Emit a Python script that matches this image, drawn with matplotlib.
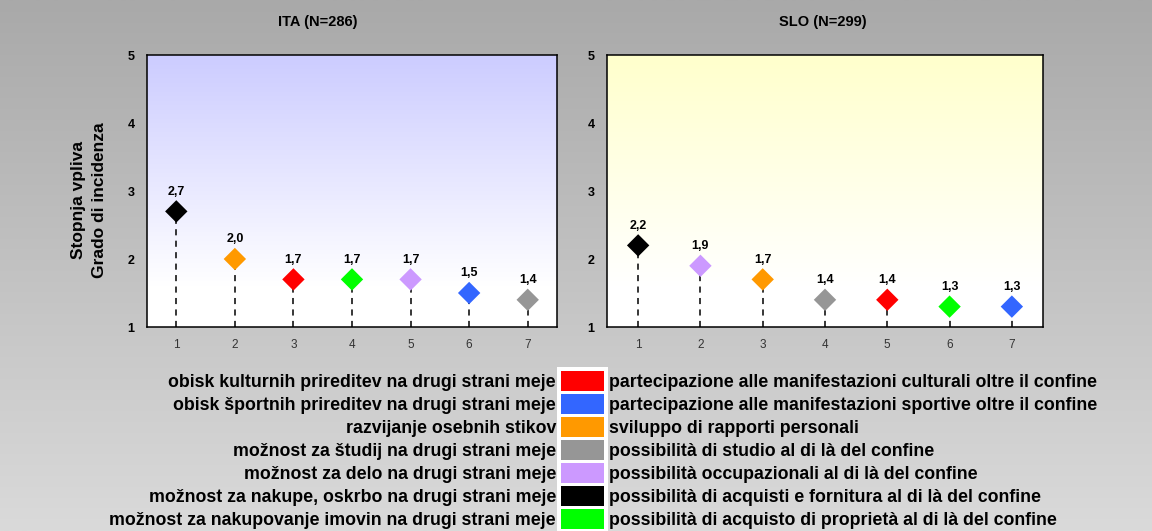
import numpy as np
import matplotlib
matplotlib.use("Agg")
import matplotlib.pyplot as plt
from matplotlib.colors import LinearSegmentedColormap
from matplotlib.patches import Rectangle

plt.rcParams['font.family'] = ['Liberation Sans', 'DejaVu Sans']

# activities, in legend order
items_sl = ["obisk kulturnih prireditev na drugi strani meje",
            "obisk športnih prireditev na drugi strani meje",
            "razvijanje osebnih stikov",
            "možnost za študij na drugi strani meje",
            "možnost za delo na drugi strani meje",
            "možnost za nakupe, oskrbo na drugi strani meje",
            "možnost za nakupovanje imovin na drugi strani meje"]
items_it = ["partecipazione alle manifestazioni culturali oltre il confine",
            "partecipazione alle manifestazioni sportive oltre il confine",
            "sviluppo di rapporti personali",
            "possibilità di studio al di là del confine",
            "possibilità occupazionali al di là del confine",
            "possibilità di acquisti e fornitura al di là del confine",
            "possibilità di acquisto di proprietà al di là del confine"]
item_colors = ['#ff0000', '#3366ff', '#ff9900', '#969696', '#cc99ff', '#000000', '#00ff00']

ranks = [1, 2, 3, 4, 5, 6, 7]
ita_items = [5, 2, 0, 6, 4, 1, 3]
ita_values = [2.7, 2.0, 1.7, 1.7, 1.7, 1.5, 1.4]
slo_items = [5, 4, 2, 3, 0, 6, 1]
slo_values = [2.2, 1.9, 1.7, 1.4, 1.4, 1.3, 1.3]

W, H = 1152, 531
fig = plt.figure(figsize=(W / 100, H / 100), dpi=100)

# grey backdrop, darker at the top
bg = fig.add_axes([0, 0, 1, 1], zorder=-10)
grad = np.linspace(0, 1, 256).reshape(-1, 1)
bg.imshow(grad, aspect='auto', extent=[0, 1, 0, 1], origin='upper',
          cmap=LinearSegmentedColormap.from_list('bg', ['#a9a9a9', '#dadada']))
bg.set_axis_off()


def panel(rect, title, title_x, items, values, top_color):
    ax = fig.add_axes(rect)
    ax.set_xlim(0.5, 7.5)
    ax.set_ylim(1, 5)
    cmap = LinearSegmentedColormap.from_list('p', [(0, top_color), (0.85, '#ffffff'), (1, '#ffffff')])
    ax.imshow(grad, aspect='auto', extent=[0.5, 7.5, 1, 5], origin='upper', cmap=cmap, zorder=0)
    cols = [item_colors[i] for i in items]
    ax.vlines(ranks, 1, values, colors='black', linestyles=(0, (4, 3.5)), lw=1.1, zorder=2)
    ax.scatter(ranks, values, marker='D', s=130, c=cols, edgecolors='none', zorder=3)
    for x, v in zip(ranks, values):
        ax.annotate(f"{v:.1f}".replace('.', ','), (x, v), xytext=(0, 10), textcoords='offset points',
                    ha='center', va='bottom', fontsize=9, fontweight='bold')
    ax.set_xticks(ranks)
    ax.set_yticks([1, 2, 3, 4, 5])
    ax.tick_params(axis='x', length=0, pad=9, labelsize=8.5, labelcolor='#333333')
    ax.tick_params(axis='y', length=0, pad=9, labelsize=9)
    for lab in ax.get_yticklabels():
        lab.set_fontweight('bold')
    for s in ax.spines.values():
        s.set_linewidth(1.1)
        s.set_color('black')
    fig.text(title_x, 1 - 22 / H, title, ha='center', va='center', fontsize=10.5, fontweight='bold')
    return ax


ax1 = panel([147 / W, 1 - 327 / H, 410 / W, 272 / H], "ITA (N=286)", 318 / W,
            ita_items, ita_values, '#ccccff')
ax2 = panel([607 / W, 1 - 327 / H, 436 / W, 272 / H], "SLO (N=299)", 823 / W,
            slo_items, slo_values, '#ffffcc')

fig.text(78 / W, 1 - 200 / H, "Stopnja vpliva", rotation=90, ha='center', va='center',
         fontsize=12.5, fontweight='bold')
fig.text(100 / W, 1 - 200 / H, "Grado di incidenza", rotation=90, ha='center', va='center',
         fontsize=12.5, fontweight='bold')

# two-language legend with a colour column in the middle
fig.patches.append(Rectangle((557 / W, 0), 51 / W, 1 - 367 / H, transform=fig.transFigure,
                             facecolor='white', edgecolor='none'))
for k, (sl, it, c) in enumerate(zip(items_sl, items_it, item_colors)):
    yc = 1 - (381 + 23 * k) / H
    fig.patches.append(Rectangle((561 / W, yc - 10 / H), 43 / W, 20 / H, transform=fig.transFigure,
                                 facecolor=c, edgecolor='none'))
    yb = yc - 6 / H
    fig.text(556 / W, yb, sl, ha='right', va='baseline', fontsize=12.8, fontweight='bold')
    fig.text(609 / W, yb, it, ha='left', va='baseline', fontsize=12.8, fontweight='bold')

fig.savefig("out.png", dpi=100)
